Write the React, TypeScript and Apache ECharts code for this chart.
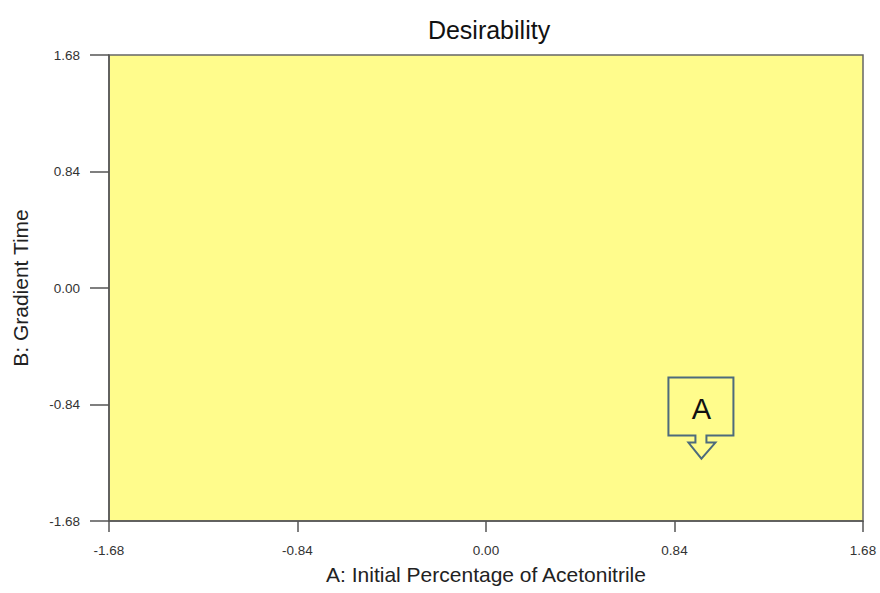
import React, { useEffect, useRef } from "react";
import * as echarts from "echarts";

const xTicks = [-1.68, -0.84, 0, 0.84, 1.68];
const yTicks = [-1.68, -0.84, 0, 0.84, 1.68];
const calloutPoint = [0.96, -1.23];
const calloutLabel = "A";

const FONT = "'Liberation Sans', Arial, sans-serif";

const fmt = (v: number) => (Math.abs(v) < 1e-9 ? "0.00" : v.toFixed(2));

export default function App() {
  const ref = useRef<HTMLDivElement>(null);
  useEffect(() => {
    if (!ref.current) return;
    const chart = echarts.init(ref.current, null, { renderer: "svg" });
    chart.setOption({
      animation: false,
      backgroundColor: "#ffffff",
      title: {
        text: "Desirability",
        left: 484,
        textAlign: "center",
        top: 12,
        textStyle: { fontFamily: FONT, fontSize: 25, fontWeight: "normal", color: "#111" },
      },
      grid: {
        left: 109,
        right: 17,
        top: 55,
        bottom: 72,
        show: true,
        backgroundColor: "#fffc8c",
        borderColor: "#666",
        borderWidth: 1.5,
      },
      xAxis: {
        type: "value",
        min: xTicks[0],
        max: xTicks[xTicks.length - 1],
        interval: 0.84,
        name: "A: Initial Percentage of Acetonitrile",
        nameLocation: "middle",
        nameGap: 43,
        nameTextStyle: { fontFamily: FONT, fontSize: 21, color: "#222" },
        axisLine: { show: true, onZero: false, lineStyle: { color: "#555", width: 1.5 } },
        axisTick: { show: true, length: 11, lineStyle: { color: "#555", width: 1.5 } },
        splitLine: { show: false },
        axisLabel: {
          margin: 22,
          fontFamily: FONT,
          fontSize: 13.5,
          color: "#333",
          formatter: fmt,
        },
      },
      yAxis: {
        type: "value",
        min: yTicks[0],
        max: yTicks[yTicks.length - 1],
        interval: 0.84,
        name: "B: Gradient Time",
        nameLocation: "middle",
        nameRotate: 90,
        nameGap: 78,
        nameTextStyle: { fontFamily: FONT, fontSize: 21, color: "#222" },
        axisLine: { show: true, onZero: false, lineStyle: { color: "#555", width: 1.5 } },
        axisTick: { show: true, length: 19, lineStyle: { color: "#555", width: 1.5 } },
        splitLine: { show: false },
        axisLabel: {
          margin: 29,
          fontFamily: FONT,
          fontSize: 13.5,
          color: "#333",
          formatter: fmt,
        },
      },
      series: [
        {
          type: "custom",
          data: [calloutPoint],
          renderItem: (params: any, api: any) => {
            const p = api.coord([api.value(0), api.value(1)]);
            const tx = p[0];
            const ty = p[1];
            const pts = [
              [-33, -81], [32, -81], [32, -23], [5, -23], [5, -16], [14, -16],
              [0, 0], [-13, -16], [-6, -16], [-6, -23], [-33, -23],
            ].map(([dx, dy]) => [tx + dx, ty + dy]);
            return {
              type: "group",
              children: [
                {
                  type: "polygon",
                  shape: { points: pts },
                  style: { fill: "rgba(0,0,0,0)", stroke: "#4d6b7c", lineWidth: 2 },
                },
                {
                  type: "text",
                  x: tx,
                  y: ty - 50,
                  style: {
                    text: calloutLabel,
                    fontFamily: FONT,
                    fontSize: 29,
                    fill: "#111",
                    align: "center",
                    verticalAlign: "middle",
                  },
                },
              ],
            };
          },
        },
      ],
    });
    return () => chart.dispose();
  }, []);
  return (
    <div
      ref={ref}
      style={{ position: "fixed", left: 0, top: 0, width: 880, height: 593 }}
    />
  );
}
